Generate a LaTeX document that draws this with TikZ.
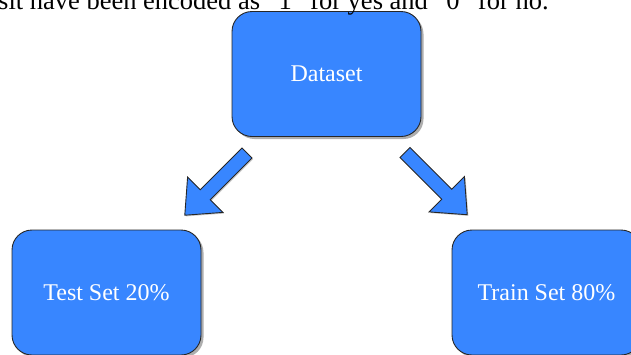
\documentclass[tikz,border=0pt]{standalone}
\usepackage{fontspec}
\setmainfont{Liberation Serif}
\usetikzlibrary{shadows}
\definecolor{boxblue}{RGB}{56,134,255}
\tikzset{
  blockbox/.style={draw=black!85, line width=0.9pt, fill=boxblue, rounded corners=20pt,
    minimum width=189pt, minimum height=125pt, inner sep=0pt, text=white,
    font=\fontsize{24}{27}\selectfont,
    drop shadow={shadow xshift=2.5pt, shadow yshift=-2.5pt, fill=black!45, opacity=0.7}},
  blockarrow/.style={draw=black!85, line width=0.9pt, fill=boxblue, line join=miter,
    drop shadow={shadow xshift=1.2pt, shadow yshift=-1.2pt, fill=black!40, opacity=0.5}},
  caption/.style={anchor=base west, inner sep=0pt, font=\fontsize{26.5}{30}\selectfont}
}
\begin{document}
\begin{tikzpicture}[x=1pt,y=-1pt]
\useasboundingbox (0,0) rectangle (631,354);
\clip (0,0) rectangle (631,354);
\node[blockbox] (data) at (326.5,74) {Dataset};
\node[blockbox] (test) at (106.5,292.5) {Test Set 20\%};
\node[blockbox] (train) at (546.5,292.5) {Train Set 80\%};
\node[caption] (cap) at (-2,9.5) {sit have been encoded as “1” for yes and “0” for no.};
% left block arrow
\draw[blockarrow] (251.95,157.95) -- (210.23,199.67) -- (222.96,212.4) -- (184.78,215.22)
  -- (187.6,177.04) -- (200.33,189.77) -- (242.05,148.05) -- cycle;
% right block arrow
\draw[blockarrow] (409.95,147.55) -- (451.67,189.27) -- (464.4,176.54) -- (467.23,214.73)
  -- (429.04,211.9) -- (441.77,199.17) -- (400.05,157.45) -- cycle;
\end{tikzpicture}
\end{document}
